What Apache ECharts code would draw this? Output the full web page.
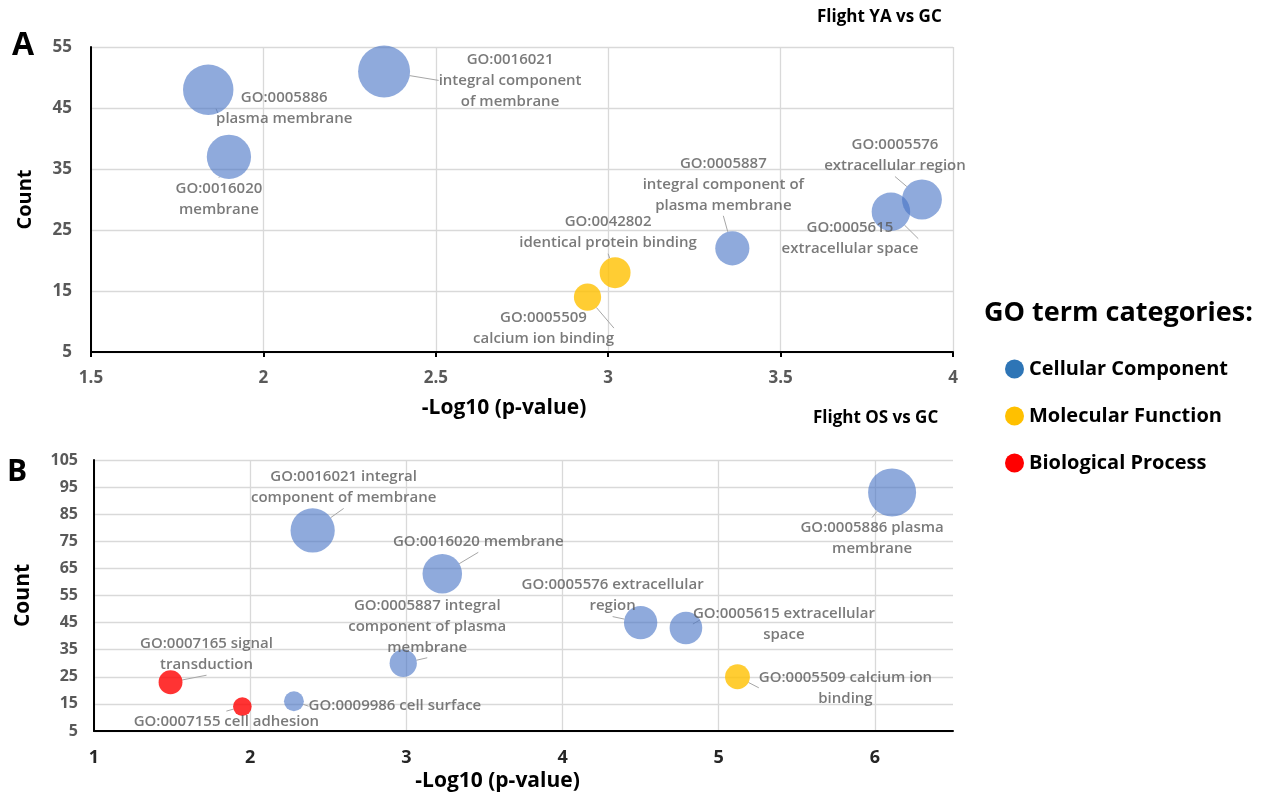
<!DOCTYPE html>
<html>
<head>
<meta charset="utf-8">
<script src="https://cdn.jsdelivr.net/npm/echarts@6/dist/echarts.min.js"></script>
<style>
  html, body { margin: 0; padding: 0; background: #ffffff; }
  #chart { width: 1269px; height: 797px; }
</style>
</head>
<body>
<div id="chart"></div>
<script>
// ---------- DATA ----------
const categories = ['Cellular Component', 'Molecular Function', 'Biological Process'];

// Panel A: Flight YA vs GC
const topLabels = [
  'GO:0005886\nplasma membrane',
  'GO:0016020\nmembrane',
  'GO:0016021\nintegral component\nof membrane',
  'GO:0005887\nintegral component of\nplasma membrane',
  'GO:0042802\nidentical protein binding',
  'GO:0005509\ncalcium ion binding',
  'GO:0005615\nextracellular space',
  'GO:0005576\nextracellular region'
];
const topLogP = [1.84, 1.90, 2.35, 3.36, 3.02, 2.94, 3.82, 3.91];
const topCount = [48, 37, 51, 22, 18, 14, 28, 30];
const topCategory = [0, 0, 0, 0, 1, 1, 0, 0];

// Panel B: Flight OS vs GC
const bottomLabels = [
  'GO:0016021 integral\ncomponent of membrane',
  'GO:0016020 membrane',
  'GO:0005886 plasma\nmembrane',
  'GO:0005576 extracellular\nregion',
  'GO:0005615 extracellular\nspace',
  'GO:0005509 calcium ion\nbinding',
  'GO:0005887 integral\ncomponent of plasma\nmembrane',
  'GO:0009986 cell surface',
  'GO:0007165 signal\ntransduction',
  'GO:0007155 cell adhesion'
];
const bottomLogP = [2.40, 3.23, 6.11, 4.50, 4.79, 5.12, 2.98, 2.28, 1.49, 1.95];
const bottomCount = [79, 63, 93, 45, 43, 25, 30, 16, 23, 14];
const bottomCategory = [0, 0, 0, 0, 0, 1, 0, 0, 2, 2];

// ---------- STYLE / LAYOUT ----------
const FONT = "'Open Sans', sans-serif";
const bubbleColors = ['rgba(68,114,196,0.75)', '#FFC000', '#FF0000'];
const legendColors = ['#2E75B6', '#FFC000', '#FF0000'];
// label offsets (pixels, label centre relative to bubble centre)
const topLabelOffsets = [[76,19],[-10,42],[126,9],[-9,-64],[-7,-40],[-44,31],[-41,27],[-27,-44]];
const bottomLabelOffsets = [[31,-43],[36,-32],[-20,46],[-28,-27],[98,-4],[108,11],[24,-37],[101,5],[36,-28],[-16,15]];

function buildSeries(panel, xs, ys, cats, labels, offsets, maxDiam) {
  const vmax = Math.max.apply(null, ys);
  const out = [];
  categories.forEach(function (catName, c) {
    const idx = [];
    cats.forEach(function (v, i) { if (v === c) idx.push(i); });
    if (!idx.length) return;
    const offs = idx.map(function (i) { return offsets[i]; });
    out.push({
      type: 'scatter',
      name: catName,
      xAxisIndex: panel,
      yAxisIndex: panel,
      data: idx.map(function (i) { return { value: [xs[i], ys[i]], name: labels[i] }; }),
      symbol: 'circle',
      symbolSize: function (val) { return maxDiam * Math.sqrt(val[1] / vmax); },
      itemStyle: { color: bubbleColors[c] },
      emphasis: { disabled: true },
      label: {
        show: true,
        position: 'inside',
        formatter: function (p) { return p.name; },
        color: '#595959',
        fontFamily: FONT,
        fontWeight: 600,
        fontSize: 15,
        lineHeight: 21,
        align: 'center',
        verticalAlign: 'middle'
      },
      labelLine: { show: true, lineStyle: { color: '#a6a6a6', width: 1 } },
      labelLayout: function (p) {
        const o = offs[p.dataIndex];
        return { dx: o[0], dy: o[1] };
      },
      z: 3
    });
  });
  return out;
}

const series = []
  .concat(buildSeries(0, topLogP, topCount, topCategory, topLabels, topLabelOffsets, 52))
  .concat(buildSeries(1, bottomLogP, bottomCount, bottomCategory, bottomLabels, bottomLabelOffsets, 48));

const axisTitleStyle = { fontFamily: FONT, fontWeight: 'bold', fontSize: 21, color: '#000' };
const gridLine = { show: true, lineStyle: { color: '#d9d9d9', width: 1.3 } };
const axisLineBlack = { show: true, lineStyle: { color: '#000', width: 2 } };

const option = {
  backgroundColor: '#ffffff',
  animation: false,
  textStyle: { fontFamily: FONT },
  title: [
    { text: 'A', left: 12, top: 30, padding: 0, textStyle: { fontFamily: FONT, fontWeight: 'bold', fontSize: 32, color: '#000' } },
    { text: 'B', left: 7, top: 457, padding: 0, textStyle: { fontFamily: FONT, fontWeight: 'bold', fontSize: 30, color: '#000' } },
    { text: 'Flight YA vs GC', left: 817, top: 9, padding: 0, textStyle: { fontFamily: FONT, fontWeight: 'bold', fontSize: 17, color: '#000' } },
    { text: 'Flight OS vs GC', left: 813, top: 410, padding: 0, textStyle: { fontFamily: FONT, fontWeight: 'bold', fontSize: 17, color: '#000' } },
    { text: 'GO term categories:', left: 984, top: 300, padding: 0, textStyle: { fontFamily: FONT, fontWeight: 'bold', fontSize: 27, color: '#000' } }
  ],
  legend: {
    data: categories.map(function (c, i) { return { name: c, itemStyle: { color: legendColors[i], opacity: 1 } }; }),
    orient: 'vertical',
    left: 1000,
    top: 354,
    icon: 'circle',
    itemWidth: 19,
    itemHeight: 19,
    itemGap: 27,
    selectedMode: false,
    textStyle: { fontFamily: FONT, fontWeight: 'bold', fontSize: 20, color: '#000' }
  },
  grid: [
    { left: 91, top: 47, right: 316, bottom: 445, containLabel: false },
    { left: 94, top: 460, right: 316, bottom: 66, containLabel: false }
  ],
  xAxis: [
    {
      type: 'value', gridIndex: 0, min: 1.5, max: 4, interval: 0.5,
      name: '-Log10 (p-value)', nameLocation: 'middle', nameGap: 46,
      nameTextStyle: Object.assign({ padding: [0, 36, 0, 0] }, axisTitleStyle),
      axisLine: axisLineBlack,
      axisTick: { show: true, length: 5, lineStyle: { color: '#000', width: 2 } },
      axisLabel: { margin: 18, fontFamily: FONT, fontWeight: 'bold', fontSize: 17, color: '#595959' },
      splitLine: gridLine
    },
    {
      type: 'value', gridIndex: 1, min: 1, max: 6.5, interval: 1,
      name: '-Log10 (p-value)', nameLocation: 'middle', nameGap: 40,
      nameTextStyle: Object.assign({ padding: [0, 52, 0, 0] }, axisTitleStyle),
      axisLine: axisLineBlack,
      axisTick: { show: false },
      axisLabel: { margin: 18, showMaxLabel: false, fontFamily: FONT, fontWeight: 'bold', fontSize: 18, color: '#262626' },
      splitLine: Object.assign({ showMaxLine: false }, gridLine)
    }
  ],
  yAxis: [
    {
      type: 'value', gridIndex: 0, min: 5, max: 55, interval: 10,
      name: 'Count', nameLocation: 'middle', nameGap: 56, nameRotate: 90,
      nameTextStyle: Object.assign({}, axisTitleStyle, { fontSize: 20 }),
      axisLine: axisLineBlack,
      axisTick: { show: false },
      axisLabel: { margin: 19, fontFamily: FONT, fontWeight: 'bold', fontSize: 17, color: '#595959' },
      splitLine: gridLine
    },
    {
      type: 'value', gridIndex: 1, min: 5, max: 105, interval: 10,
      name: 'Count', nameLocation: 'middle', nameGap: 60, nameRotate: 90,
      nameTextStyle: axisTitleStyle,
      axisLine: axisLineBlack,
      axisTick: { show: false },
      axisLabel: { margin: 16, fontFamily: FONT, fontWeight: 'bold', fontSize: 16, color: '#595959' },
      splitLine: gridLine
    }
  ],
  series: series
};

const chart = echarts.init(document.getElementById('chart'), null, { renderer: 'canvas' });
chart.setOption(option);
</script>
</body>
</html>
